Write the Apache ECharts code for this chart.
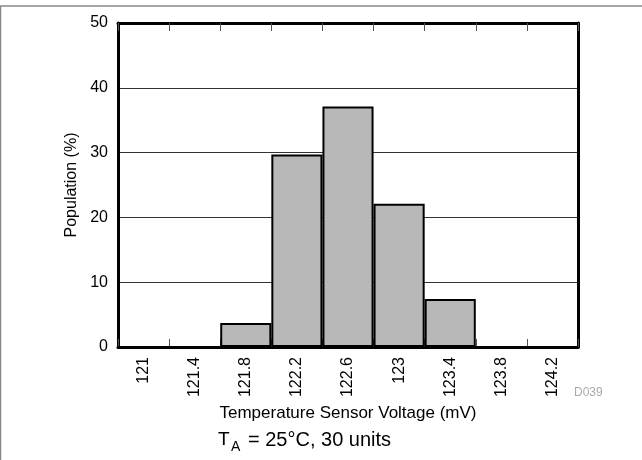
<!DOCTYPE html>
<html>
<head>
<meta charset="utf-8">
<script src="https://cdn.jsdelivr.net/npm/echarts@6/dist/echarts.min.js"></script>
<style>html,body{margin:0;padding:0;background:#fff;}#c{width:642px;height:460px;}</style>
</head>
<body>
<div id="c"></div>
<script>
const categories = ['121','121.4','121.8','122.2','122.6','123','123.4','123.8','124.2'];
const population = [0, 0, 3.7, 29.7, 37.1, 22.1, 7.4, 0, 0];
const yTicks = [0, 10, 20, 30, 40, 50];

const FONT = 'Liberation Sans, Arial, Helvetica, sans-serif';
const chart = echarts.init(document.getElementById('c'), null, {renderer: 'canvas'});
chart.setOption({
  animation: false,
  backgroundColor: '#fff',
  textStyle: {fontFamily: FONT},
  grid: {left: 118, right: 64, top: 23, bottom: 113, containLabel: false},
  xAxis: [{
    type: 'category', data: categories, position: 'bottom', boundaryGap: true,
    axisLine: {show: true, onZero: false, lineStyle: {color: '#000', width: 3}},
    axisTick: {show: true, inside: true, length: 8, interval: 0, lineStyle: {color: '#555', width: 1}},
    axisLabel: {rotate: 90, margin: 10, fontSize: 16, color: '#000', fontFamily: FONT, interval: 0},
    name: 'Temperature Sensor Voltage (mV)', nameLocation: 'middle', nameGap: 53,
    nameTextStyle: {fontSize: 17, color: '#000', fontFamily: FONT},
    splitLine: {show: false}
  }, {
    type: 'category', data: categories, position: 'top', boundaryGap: true,
    axisLine: {show: true, onZero: false, lineStyle: {color: '#000', width: 3}},
    axisTick: {show: true, inside: true, length: 8, interval: 0, lineStyle: {color: '#555', width: 1}},
    axisLabel: {show: false},
    splitLine: {show: false}
  }],
  yAxis: [{
    type: 'value', min: yTicks[0], max: yTicks[yTicks.length - 1], interval: 10, position: 'left',
    axisLine: {show: true, onZero: false, lineStyle: {color: '#000', width: 3}},
    axisTick: {show: false},
    axisLabel: {margin: 10, fontSize: 16, color: '#000', fontFamily: FONT},
    splitLine: {show: true, lineStyle: {color: '#333', width: 1}},
    name: 'Population (%)', nameLocation: 'middle', nameGap: 38,
    nameTextStyle: {fontSize: 16, color: '#000', fontFamily: FONT}
  }, {
    type: 'value', min: yTicks[0], max: yTicks[yTicks.length - 1], interval: 10, position: 'right',
    axisLine: {show: true, onZero: false, lineStyle: {color: '#000', width: 3}},
    axisTick: {show: false}, axisLabel: {show: false}, splitLine: {show: false}
  }],
  series: [{
    type: 'bar', data: population, xAxisIndex: 0, yAxisIndex: 0,
    barWidth: '100%', barGap: '0%',
    itemStyle: {color: '#b8b8b8', borderColor: '#000', borderWidth: 2}
  }],
  graphic: [
    {type: 'line', shape: {x1: 0, y1: 6, x2: 642, y2: 6}, style: {stroke: '#888', lineWidth: 1.5}},
    {type: 'line', shape: {x1: 0.5, y1: 6, x2: 0.5, y2: 460}, style: {stroke: '#888', lineWidth: 1.5}},
    {type: 'text', left: 574, top: 387, style: {text: 'D039', fontSize: 12, fill: '#aaa', fontFamily: FONT}},
    {type: 'text', left: 218, top: 430, style: {text: 'T', fontSize: 19, fill: '#000', fontFamily: FONT}},
    {type: 'text', left: 231, top: 440, style: {text: 'A', fontSize: 14, fill: '#000', fontFamily: FONT}},
    {type: 'text', left: 248, top: 430, style: {text: '= 25°C, 30 units', fontSize: 20, fill: '#000', fontFamily: FONT}}
  ]
});
</script>
</body>
</html>
